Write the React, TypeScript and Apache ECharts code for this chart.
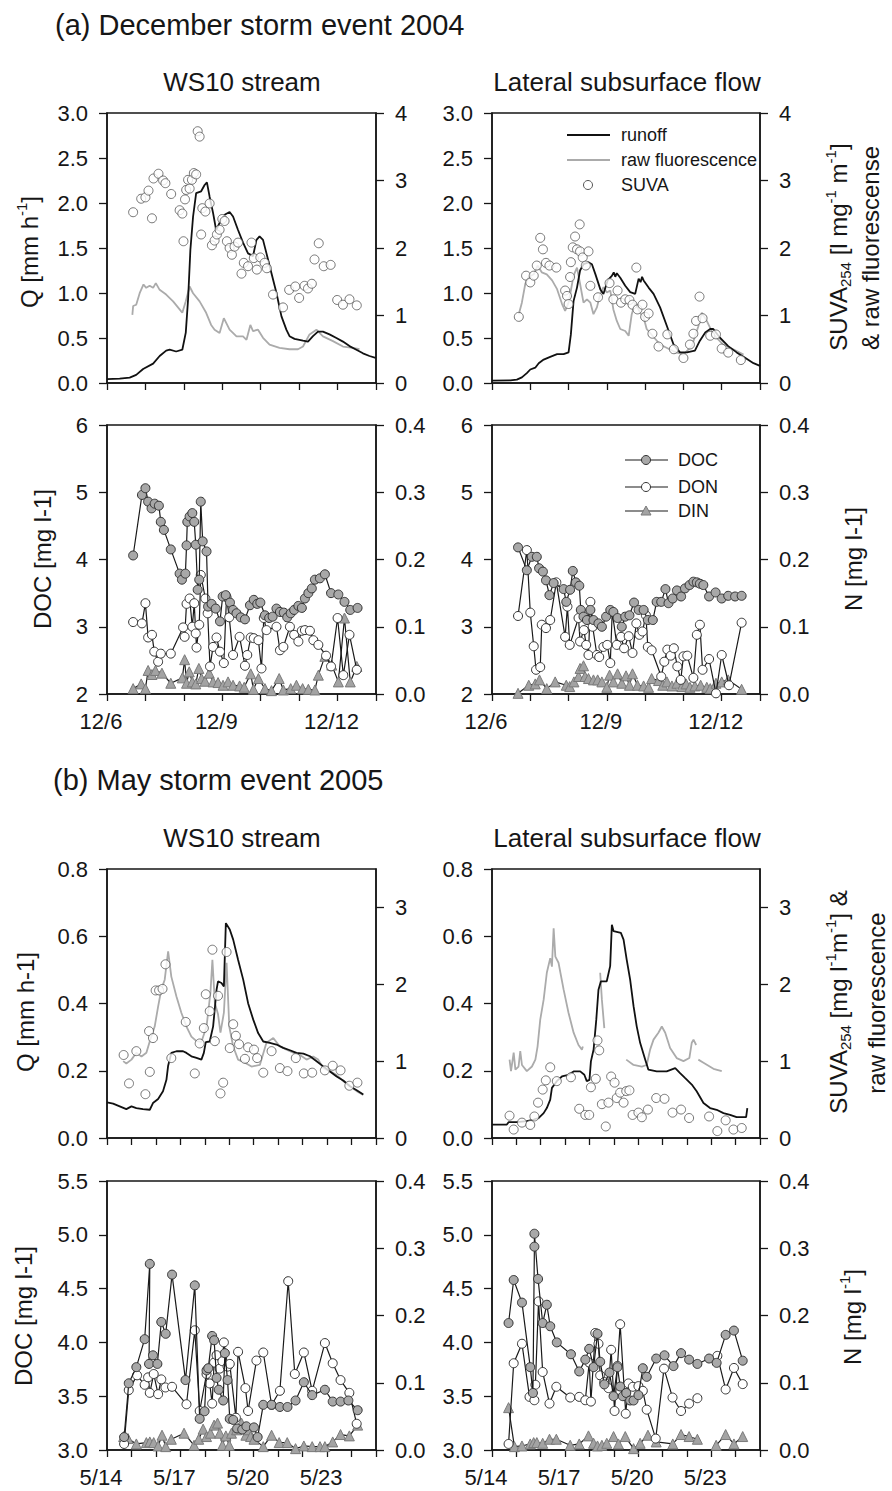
import React, { useEffect, useRef } from 'react';
import * as echarts from 'echarts';

type P = [number, number | null];

// ---------- (a) December 2004 : WS10 stream ----------
const decStreamQ: P[] = [[6.00,0.044],[6.33,0.048],[6.59,0.06],[6.76,0.09],[6.94,0.155],[7.20,0.215],[7.37,0.30],[7.54,0.36],[7.63,0.37],[7.80,0.35],[7.96,0.37],[8.05,0.56],[8.11,0.93],[8.17,1.48],[8.24,1.85],[8.32,2.11],[8.45,2.13],[8.54,2.20],[8.60,2.23],[8.67,2.07],[8.76,1.89],[8.84,1.70],[8.93,1.78],[9.06,1.87],[9.19,1.90],[9.28,1.85],[9.41,1.70],[9.54,1.56],[9.67,1.44],[9.80,1.41],[9.89,1.59],[9.97,1.63],[10.06,1.59],[10.15,1.44],[10.28,1.22],[10.41,1.00],[10.54,0.74],[10.67,0.59],[10.75,0.52],[10.88,0.49],[11.10,0.47],[11.23,0.46],[11.36,0.52],[11.49,0.57],[11.62,0.57],[11.79,0.54],[11.97,0.50],[12.14,0.46],[12.31,0.41],[12.49,0.37],[12.66,0.33],[12.83,0.30],[12.99,0.28]];
const decStreamFluor: P[] = [[6.66,1.01],[6.68,1.14],[6.76,1.16],[6.85,1.33],[6.95,1.46],[7.02,1.41],[7.11,1.44],[7.20,1.41],[7.27,1.48],[7.37,1.38],[7.54,1.31],[7.72,1.21],[7.89,1.09],[7.96,1.04],[8.05,1.21],[8.15,1.43],[8.24,1.33],[8.41,1.21],[8.58,1.04],[8.71,0.86],[8.80,0.79],[8.93,0.74],[9.04,0.96],[9.19,0.79],[9.37,0.69],[9.54,0.69],[9.63,0.64],[9.73,0.86],[9.80,0.77],[9.93,0.79],[10.06,0.67],[10.23,0.57],[10.49,0.52],[10.75,0.50],[10.97,0.50],[11.10,0.54],[11.27,0.72],[11.45,0.79],[11.62,0.69],[11.88,0.62],[12.14,0.54],[12.40,0.52],[12.57,0.50]];
const decStreamSuva: P[] = [[6.68,2.53],[6.89,2.73],[7.00,2.75],[7.08,2.85],[7.17,2.44],[7.21,3.03],[7.34,3.10],[7.46,3.00],[7.52,2.96],[7.67,2.80],[7.89,2.56],[7.96,2.51],[7.99,2.10],[8.03,2.72],[8.06,2.86],[8.11,3.01],[8.15,2.88],[8.21,3.01],[8.26,3.11],[8.32,3.09],[8.36,3.73],[8.41,3.65],[8.45,2.20],[8.48,2.59],[8.56,2.54],[8.67,2.66],[8.73,2.04],[8.80,2.11],[8.86,2.20],[8.93,2.27],[9.00,2.43],[9.06,2.40],[9.12,2.10],[9.19,2.00],[9.25,1.90],[9.32,2.02],[9.41,2.08],[9.50,1.62],[9.56,1.78],[9.67,1.73],[9.76,2.08],[9.82,1.85],[9.90,1.68],[9.99,1.86],[10.10,1.78],[10.16,1.70],[10.32,1.31],[10.58,1.12],[10.74,1.38],[10.90,1.43],[11.00,1.26],[11.14,1.44],[11.23,1.40],[11.33,1.47],[11.40,1.83],[11.51,2.07],[11.64,1.73],[11.82,1.75],[11.99,1.23],[12.14,1.16],[12.31,1.24],[12.50,1.15]];

// ---------- (a) December 2004 : lateral subsurface flow ----------
const decLatQ: P[] = [[6.00,0.026],[6.48,0.03],[6.65,0.037],[6.78,0.063],[6.91,0.11],[7.00,0.15],[7.13,0.17],[7.22,0.22],[7.35,0.26],[7.52,0.29],[7.70,0.32],[7.87,0.32],[8.00,0.34],[8.06,0.54],[8.13,0.91],[8.22,1.06],[8.30,1.25],[8.39,1.32],[8.52,1.34],[8.61,1.32],[8.70,1.21],[8.83,1.04],[8.91,0.99],[9.02,1.14],[9.13,1.19],[9.18,1.23],[9.22,1.18],[9.26,1.22],[9.35,1.17],[9.48,1.08],[9.61,1.01],[9.74,0.99],[9.83,1.16],[9.88,1.12],[9.92,1.18],[9.96,1.14],[10.09,1.06],[10.22,0.99],[10.39,0.84],[10.57,0.63],[10.74,0.43],[10.91,0.34],[11.09,0.34],[11.30,0.36],[11.43,0.47],[11.57,0.56],[11.70,0.60],[11.78,0.60],[11.96,0.50],[12.17,0.41],[12.39,0.34],[12.61,0.28],[12.83,0.22],[13.00,0.19]];
const decLatFluor: P[] = [[6.70,1.02],[6.78,1.19],[6.87,1.47],[6.96,1.57],[7.09,1.61],[7.19,1.74],[7.30,1.64],[7.43,1.61],[7.57,1.52],[7.70,1.39],[7.83,1.17],[7.91,1.07],[8.00,1.19],[8.06,1.37],[8.13,1.59],[8.22,1.71],[8.30,1.47],[8.39,1.19],[8.48,1.24],[8.57,1.19],[8.65,1.02],[8.74,1.12],[8.83,1.32],[8.91,1.42],[9.00,1.34],[9.09,1.37],[9.17,1.09],[9.26,0.92],[9.35,0.80],[9.48,0.77],[9.57,0.70],[9.65,1.02],[9.74,1.19],[9.87,1.04],[9.96,0.97],[10.04,0.80],[10.39,0.57],[10.74,0.47],[11.00,0.42],[11.22,0.55],[11.39,0.84],[11.48,1.04],[11.61,0.92],[11.78,0.72],[12.04,0.57],[12.30,0.50],[12.57,0.42]];
const decLatSuva: P[] = [[6.70,0.98],[6.89,1.59],[7.00,1.49],[7.09,1.59],[7.17,1.74],[7.26,2.15],[7.33,1.98],[7.41,1.78],[7.50,1.74],[7.68,1.71],[7.91,1.37],[7.96,1.29],[8.00,1.17],[8.04,1.57],[8.06,1.79],[8.11,2.01],[8.17,2.17],[8.29,2.35],[8.22,1.98],[8.30,1.95],[8.37,1.86],[8.45,1.74],[8.52,1.95],[8.57,1.44],[8.77,1.27],[9.07,1.48],[9.17,1.24],[9.28,1.37],[9.37,1.19],[9.48,1.24],[9.59,1.23],[9.67,1.16],[9.77,1.71],[9.80,1.09],[9.93,1.16],[10.00,0.98],[10.09,1.03],[10.19,0.73],[10.35,0.54],[10.58,0.72],[10.75,0.50],[11.00,0.37],[11.17,0.57],[11.26,0.73],[11.33,0.92],[11.42,1.28],[11.50,0.96],[11.70,0.70],[11.85,0.72],[12.00,0.51],[12.17,0.45],[12.50,0.34]];

// ---------- (a) December 2004 : solutes, stream ----------
const decStreamDoc: P[] = [[6.68,4.06],[6.91,4.96],[7.00,5.06],[7.07,4.86],[7.16,4.76],[7.24,4.83],[7.35,4.80],[7.40,4.56],[7.48,4.44],[7.66,4.15],[7.89,3.79],[7.95,3.70],[8.04,3.79],[8.07,4.21],[8.09,4.56],[8.15,4.64],[8.22,4.69],[8.27,4.56],[8.31,4.22],[8.36,3.55],[8.40,3.70],[8.44,4.86],[8.49,4.27],[8.59,4.12],[8.63,3.30],[8.72,3.34],[8.83,3.27],[8.94,3.08],[9.01,3.45],[9.09,3.47],[9.20,3.36],[9.28,3.25],[9.37,3.20],[9.48,3.14],[9.59,3.11],[9.72,3.32],[9.82,3.40],[9.91,3.34],[9.99,3.36],[10.11,3.17],[10.22,3.13],[10.31,3.15],[10.41,3.27],[10.50,3.22],[10.60,3.21],[10.69,3.14],[10.78,3.20],[10.87,3.25],[10.98,3.31],[11.07,3.28],[11.15,3.42],[11.24,3.50],[11.33,3.57],[11.41,3.70],[11.54,3.72],[11.67,3.78],[11.83,3.50],[12.02,3.48],[12.18,3.37],[12.33,3.25],[12.52,3.28]];
const decStreamDon: P[] = [[6.68,0.107],[6.91,0.105],[7.00,0.135],[7.07,0.084],[7.17,0.088],[7.23,0.063],[7.33,0.048],[7.40,0.060],[7.66,0.060],[7.98,0.099],[8.02,0.085],[8.07,0.134],[8.15,0.142],[8.22,0.100],[8.27,0.135],[8.31,0.090],[8.33,0.069],[8.40,0.103],[8.44,0.177],[8.56,0.142],[8.62,0.120],[8.68,0.041],[8.76,0.070],[8.85,0.084],[8.94,0.063],[9.04,0.046],[9.11,0.144],[9.18,0.114],[9.28,0.058],[9.45,0.085],[9.59,0.042],[9.65,0.058],[9.74,0.084],[9.82,0.083],[9.94,0.080],[10.02,0.038],[10.08,0.113],[10.15,0.095],[10.41,0.100],[10.50,0.065],[10.59,0.070],[10.76,0.100],[10.87,0.088],[10.98,0.078],[11.07,0.094],[11.15,0.095],[11.28,0.094],[11.37,0.080],[11.50,0.073],[11.70,0.057],[11.83,0.041],[12.00,0.113],[12.15,0.028],[12.31,0.088],[12.50,0.036]];
const decStreamDin: P[] = [[6.68,0.008],[6.89,0.015],[7.00,0.008],[7.07,0.035],[7.17,0.029],[7.26,0.035],[7.43,0.031],[7.66,0.016],[7.96,0.024],[8.02,0.051],[8.07,0.016],[8.14,0.033],[8.22,0.018],[8.31,0.015],[8.39,0.038],[8.46,0.023],[8.55,0.019],[8.66,0.031],[8.76,0.018],[8.89,0.017],[9.02,0.013],[9.15,0.018],[9.28,0.013],[9.45,0.012],[9.57,0.010],[9.74,0.030],[9.81,0.007],[9.94,0.023],[10.11,0.008],[10.28,0.005],[10.48,0.023],[10.59,0.006],[10.78,0.008],[10.93,0.013],[11.09,0.008],[11.24,0.007],[11.41,0.006],[11.50,0.028],[11.67,0.056],[11.85,0.043],[12.02,0.018],[12.18,0.113],[12.33,0.018],[12.50,0.041]];

// ---------- (a) December 2004 : solutes, lateral flow ----------
const decLatDoc: P[] = [[6.68,4.18],[6.91,3.84],[7.04,4.04],[7.17,4.04],[7.23,3.87],[7.33,3.82],[7.41,3.69],[7.50,3.47],[7.61,3.65],[7.87,3.56],[7.94,3.37],[8.04,3.55],[8.11,3.83],[8.19,3.66],[8.28,3.61],[8.32,3.25],[8.39,3.15],[8.48,3.10],[8.57,3.25],[8.65,3.10],[8.78,3.05],[8.87,3.00],[8.98,3.15],[9.09,3.25],[9.17,3.22],[9.28,3.13],[9.39,3.00],[9.48,3.15],[9.59,3.17],[9.71,3.36],[9.83,3.25],[9.96,3.25],[10.07,3.10],[10.20,3.10],[10.30,3.37],[10.42,3.37],[10.53,3.56],[10.61,3.35],[10.72,3.42],[10.83,3.54],[10.94,3.45],[11.04,3.57],[11.16,3.62],[11.26,3.67],[11.35,3.66],[11.43,3.64],[11.52,3.62],[11.67,3.45],[11.84,3.51],[12.00,3.42],[12.17,3.46],[12.35,3.45],[12.52,3.46]];
const decLatDon: P[] = [[6.68,0.116],[6.91,0.214],[7.00,0.121],[7.09,0.071],[7.15,0.036],[7.26,0.040],[7.30,0.103],[7.41,0.098],[7.52,0.110],[7.68,0.166],[7.91,0.085],[7.97,0.130],[8.03,0.073],[8.26,0.113],[8.30,0.078],[8.40,0.095],[8.46,0.073],[8.52,0.058],[8.57,0.137],[8.63,0.100],[8.74,0.058],[8.80,0.055],[8.91,0.070],[9.01,0.073],[9.09,0.046],[9.14,0.122],[9.26,0.073],[9.37,0.085],[9.45,0.068],[9.57,0.086],[9.67,0.061],[9.77,0.105],[9.85,0.088],[9.93,0.093],[10.02,0.117],[10.07,0.070],[10.17,0.065],[10.42,0.026],[10.50,0.048],[10.58,0.066],[10.67,0.057],[10.75,0.068],[10.84,0.041],[10.93,0.021],[11.00,0.056],[11.10,0.057],[11.26,0.024],[11.35,0.088],[11.43,0.103],[11.50,0.036],[11.67,0.052],[11.85,0.001],[12.00,0.058],[12.19,0.013],[12.52,0.106]];
const decLatDin: P[] = [[6.68,0.001],[6.96,0.013],[7.13,0.015],[7.24,0.021],[7.43,0.008],[7.65,0.018],[7.94,0.013],[8.03,0.011],[8.14,0.018],[8.26,0.026],[8.30,0.038],[8.39,0.042],[8.43,0.026],[8.52,0.023],[8.65,0.021],[8.76,0.021],[8.87,0.018],[9.00,0.010],[9.07,0.028],[9.17,0.018],[9.28,0.030],[9.39,0.016],[9.50,0.027],[9.59,0.013],[9.67,0.030],[9.80,0.013],[9.96,0.012],[10.09,0.010],[10.17,0.023],[10.35,0.020],[10.46,0.013],[10.57,0.018],[10.70,0.012],[10.83,0.016],[10.96,0.011],[11.07,0.015],[11.17,0.010],[11.30,0.012],[11.45,0.013],[11.61,0.010],[11.70,0.008],[11.85,0.016],[12.00,0.018],[12.17,0.021],[12.52,0.007]];

// ---------- (b) May 2005 : WS10 stream ----------
const mayStreamQ: P[] = [[14.00,0.106],[14.25,0.102],[14.52,0.094],[14.79,0.086],[15.00,0.094],[15.20,0.089],[15.47,0.086],[15.75,0.084],[15.88,0.104],[16.09,0.116],[16.29,0.139],[16.43,0.173],[16.50,0.215],[16.63,0.253],[16.84,0.258],[17.11,0.258],[17.25,0.253],[17.45,0.243],[17.66,0.238],[17.86,0.233],[17.96,0.253],[18.04,0.285],[18.20,0.287],[18.34,0.332],[18.48,0.441],[18.54,0.466],[18.68,0.461],[18.78,0.451],[18.86,0.639],[19.02,0.620],[19.16,0.590],[19.36,0.530],[19.57,0.471],[19.77,0.401],[19.98,0.352],[20.18,0.312],[20.39,0.287],[20.66,0.283],[20.93,0.278],[21.21,0.268],[21.48,0.261],[21.75,0.253],[22.03,0.251],[22.30,0.243],[22.57,0.228],[22.84,0.213],[23.12,0.198],[23.39,0.183],[23.66,0.171],[23.94,0.154],[24.21,0.142],[24.48,0.129]];
const mayStreamFluor: P[] = [[14.66,1.00],[14.79,0.97],[15.00,1.02],[15.20,1.11],[15.41,1.06],[15.61,1.11],[15.75,1.26],[15.95,1.45],[16.09,1.71],[16.22,1.93],[16.36,2.06],[16.50,2.43],[16.63,2.10],[16.84,1.84],[17.04,1.63],[17.25,1.45],[17.45,1.32],[17.66,1.26],[17.86,1.25],[18.07,1.45],[18.23,1.89],[18.31,2.32],[18.41,1.76],[18.54,1.61],[18.64,1.37],[18.78,1.63],[18.89,2.28],[19.00,1.45],[19.16,1.19],[19.36,1.02],[19.64,0.98],[19.91,0.93],[20.25,0.95],[20.52,1.24],[20.80,1.30],[21.07,1.19],[21.34,1.15],[21.62,1.11],[21.89,1.08],[22.16,1.02],[22.43,1.06],[22.64,1.02],[22.84,0.91],[23.12,0.87],[23.39,0.82],[23.66,0.74],[23.94,0.67],[24.21,0.61],[24.48,0.56]];
const mayStreamSuva: P[] = [[14.68,1.08],[14.90,0.71],[15.20,1.13],[15.57,0.57],[15.72,1.39],[15.75,0.86],[15.88,1.30],[15.99,1.92],[16.13,1.92],[16.27,1.94],[16.39,2.26],[16.63,1.04],[17.22,1.51],[17.59,0.84],[17.79,1.23],[17.96,1.43],[18.04,1.87],[18.20,1.65],[18.31,2.45],[18.41,1.26],[18.54,1.85],[18.64,0.58],[18.75,0.72],[18.89,2.42],[19.02,1.17],[19.16,1.48],[19.27,1.33],[19.40,1.22],[19.64,1.03],[19.77,1.18],[20.01,1.15],[20.14,1.04],[20.39,0.85],[20.73,1.13],[21.07,0.91],[21.38,0.87],[21.72,1.04],[22.05,0.84],[22.39,0.85],[22.91,0.88],[23.23,0.94],[23.55,0.88],[23.91,0.68],[24.24,0.72]];

// ---------- (b) May 2005 : lateral subsurface flow ----------
const mayLatQ: P[] = [[14.00,0.040],[14.61,0.040],[14.68,0.047],[15.02,0.047],[15.43,0.050],[15.71,0.055],[15.91,0.059],[16.12,0.074],[16.25,0.089],[16.39,0.114],[16.46,0.149],[16.66,0.169],[16.87,0.183],[17.14,0.188],[17.35,0.198],[17.62,0.198],[17.79,0.188],[17.89,0.169],[18.00,0.173],[18.06,0.228],[18.17,0.263],[18.28,0.352],[18.37,0.441],[18.47,0.466],[18.71,0.466],[18.85,0.511],[18.92,0.634],[18.99,0.615],[19.29,0.610],[19.40,0.590],[19.53,0.530],[19.67,0.471],[19.81,0.392],[19.94,0.332],[20.08,0.283],[20.29,0.233],[20.42,0.203],[20.76,0.198],[21.17,0.198],[21.52,0.208],[21.72,0.193],[21.93,0.178],[22.20,0.159],[22.40,0.139],[22.68,0.104],[22.95,0.089],[23.22,0.084],[23.50,0.074],[23.77,0.069],[24.04,0.062],[24.43,0.062],[24.48,0.089]];
const mayLatFluor: P[] = [[14.72,1.02],[14.78,0.87],[14.89,1.11],[14.96,0.89],[15.09,0.93],[15.16,1.13],[15.23,0.95],[15.43,0.87],[15.64,0.93],[15.78,1.02],[15.87,1.19],[15.98,1.54],[16.12,1.80],[16.25,2.15],[16.39,2.34],[16.46,2.23],[16.53,2.73],[16.60,2.36],[16.73,2.28],[16.94,1.93],[17.14,1.63],[17.35,1.37],[17.55,1.21],[17.69,1.15],[17.73,1.19],[17.9,null],[18.44,2.15],[18.51,1.80],[18.61,1.43],[19.0,null],[19.51,1.02],[19.81,0.95],[20.15,0.93],[20.35,0.95],[20.49,1.15],[20.63,1.28],[20.83,1.37],[20.97,1.45],[21.11,1.37],[21.31,1.17],[21.58,1.04],[21.86,1.00],[22.10,1.04],[22.20,1.24],[22.27,1.28],[22.38,1.21],[22.42,null],[22.47,1.02],[22.68,0.98],[23.09,0.90],[23.43,0.87]];
const mayLatSuva: P[] = [[14.72,0.29],[14.89,0.11],[15.23,0.20],[15.57,0.17],[15.74,0.28],[15.89,0.46],[16.08,0.63],[16.21,0.75],[16.39,0.92],[16.66,0.74],[17.24,0.79],[17.58,0.38],[17.83,0.30],[17.99,0.30],[18.06,0.66],[18.26,0.77],[18.33,1.27],[18.40,1.14],[18.51,0.44],[18.67,0.15],[18.78,0.46],[18.89,0.80],[19.03,0.72],[19.12,0.52],[19.26,0.59],[19.40,0.46],[19.51,0.61],[19.64,0.62],[19.77,0.30],[20.01,0.33],[20.15,0.27],[20.40,0.37],[20.74,0.52],[21.08,0.51],[21.41,0.33],[21.76,0.37],[22.09,0.26],[22.91,0.28],[23.25,0.09],[23.59,0.23],[23.91,0.11],[24.25,0.13]];

// ---------- (b) May 2005 : solutes, stream ----------
const mayStreamDoc: P[] = [[14.70,3.12],[14.89,3.62],[15.20,3.77],[15.54,4.03],[15.75,4.73],[15.72,3.80],[15.88,3.88],[16.06,3.80],[16.22,4.19],[16.40,4.08],[16.66,4.63],[17.21,3.65],[17.59,4.53],[17.79,3.29],[17.99,3.36],[18.07,3.74],[18.14,3.76],[18.30,4.06],[18.38,4.02],[18.48,3.67],[18.57,3.56],[18.75,3.46],[18.82,3.90],[18.93,3.65],[19.02,3.29],[19.16,3.28],[19.32,3.20],[19.53,3.19],[19.70,3.22],[20.01,3.21],[20.16,3.12],[20.39,3.42],[20.73,3.42],[21.07,3.40],[21.38,3.40],[21.71,3.46],[22.05,3.63],[22.39,3.51],[22.91,3.56],[23.23,3.45],[23.55,3.45],[23.87,3.46],[24.25,3.37]];
const mayStreamDon: P[] = [[14.70,0.009],[14.89,0.089],[15.23,0.111],[15.54,0.097],[15.68,0.108],[15.75,0.085],[15.91,0.113],[16.09,0.083],[16.22,0.105],[16.39,0.093],[16.66,0.094],[17.25,0.068],[17.59,0.178],[17.79,0.058],[18.07,0.113],[18.20,0.099],[18.30,0.069],[18.38,0.130],[18.48,0.141],[18.61,0.121],[18.72,0.132],[18.78,0.160],[18.93,0.124],[19.02,0.128],[19.27,0.048],[19.36,0.146],[19.66,0.092],[19.77,0.058],[20.11,0.133],[20.39,0.145],[20.73,0.067],[21.07,0.088],[21.41,0.251],[21.68,0.113],[22.05,0.145],[22.39,0.088],[22.91,0.159],[23.23,0.129],[23.55,0.104],[23.91,0.085],[24.21,0.039]];
const mayStreamDin: P[] = [[14.68,0.020],[14.86,0.017],[15.20,0.009],[15.61,0.011],[15.75,0.012],[15.91,0.011],[16.09,0.006],[16.25,0.022],[16.40,0.005],[16.63,0.016],[17.15,0.025],[17.56,0.007],[17.75,0.016],[17.93,0.031],[18.07,0.020],[18.23,0.025],[18.38,0.037],[18.52,0.040],[18.61,0.025],[18.72,0.007],[18.86,0.021],[19.00,0.007],[19.09,0.025],[19.30,0.030],[19.50,0.040],[19.68,0.022],[19.77,0.030],[19.87,0.020],[20.01,0.016],[20.39,0.005],[20.73,0.022],[21.04,0.011],[21.37,0.011],[21.71,0.002],[22.05,0.006],[22.39,0.005],[22.71,0.005],[22.91,0.005],[23.23,0.012],[23.55,0.023],[23.91,0.021],[24.25,0.037]];

// ---------- (b) May 2005 : solutes, lateral flow ----------
const mayLatDoc: P[] = [[14.68,4.18],[14.89,4.58],[15.23,4.37],[15.57,3.77],[15.68,3.53],[15.74,4.89],[15.74,5.01],[15.89,4.59],[16.08,4.18],[16.25,4.35],[16.39,4.15],[16.66,4.00],[17.24,3.89],[17.58,3.73],[17.83,3.84],[17.99,3.94],[18.17,3.77],[18.33,4.08],[18.44,3.82],[18.61,3.61],[18.82,3.72],[18.99,3.50],[19.15,3.77],[19.26,3.59],[19.37,3.50],[19.51,3.53],[19.67,3.46],[19.81,3.46],[20.01,3.51],[20.19,3.76],[20.35,3.68],[20.74,3.85],[21.08,3.88],[21.45,3.78],[21.76,3.90],[22.09,3.84],[22.43,3.80],[22.91,3.85],[23.22,3.81],[23.59,4.07],[23.93,4.11],[24.29,3.83]];
const mayLatDon: P[] = [[14.68,0.009],[14.89,0.129],[15.23,0.158],[15.54,0.079],[15.74,0.074],[15.78,0.097],[15.91,0.221],[16.08,0.116],[16.36,0.069],[16.64,0.094],[17.21,0.078],[17.58,0.079],[17.83,0.074],[17.99,0.130],[18.06,0.072],[18.24,0.174],[18.37,0.158],[18.44,0.111],[18.61,0.101],[18.78,0.092],[18.89,0.149],[19.03,0.058],[19.15,0.125],[19.26,0.187],[19.49,0.054],[19.60,0.099],[19.78,0.094],[20.01,0.095],[20.19,0.088],[20.35,0.060],[20.72,0.017],[21.06,0.121],[21.41,0.078],[21.76,0.058],[22.09,0.069],[22.43,0.077],[22.8,null],[23.25,0.140],[23.59,0.090],[23.93,0.122],[24.29,0.098]];
const mayLatDin: P[] = [[14.68,0.063],[14.92,0.005],[15.23,0.006],[15.57,0.009],[15.71,0.011],[15.84,0.011],[16.08,0.010],[16.36,0.016],[16.64,0.016],[17.21,0.007],[17.58,0.009],[17.96,0.021],[18.17,0.010],[18.33,0.006],[18.51,0.007],[18.71,0.010],[18.99,0.020],[19.19,0.009],[19.47,0.020],[19.81,0.002],[20.08,0.010],[20.40,0.022],[20.74,0.012],[21.42,0.009],[21.76,0.023],[22.09,0.020],[22.43,0.016],[22.8,null],[23.20,0.007],[23.59,0.023],[23.93,0.009],[24.29,0.020]];

// ---------- axis ticks / labels ----------
const decDays = { min: 6, max: 13, month: 12 };
const mayDays = { min: 14, max: 25, month: 5 };
const qDecTicks = { min: 0, max: 3, interval: 0.5, dec: 1 };
const suvaDecTicks = { min: 0, max: 4, interval: 1, dec: 0 };
const docDecTicks = { min: 2, max: 6, interval: 1, dec: 0 };
const nTicks = { min: 0, max: 0.4, interval: 0.1, dec: 1 };
const qMayTicks = { min: 0, max: 0.8, interval: 0.2, dec: 1 };
const suvaMayTicks = { min: 0, max: 3.5, interval: 1, dec: 0, custom: [0, 1, 2, 3] };
const docMayTicks = { min: 3, max: 5.5, interval: 0.5, dec: 1 };

const FONT = '"Liberation Sans", Arial, Helvetica, sans-serif';
const INK = '#161616';
const GRAY_LINE = '#ababab';

const GRIDS = [
  [107, 113, 269, 270],
  [492, 113, 268, 270],
  [107, 425, 269, 269],
  [492, 425, 268, 269],
  [107, 869, 269, 269],
  [492, 869, 268, 269],
  [107, 1181, 269, 269],
  [492, 1181, 268, 269],
];

const toData = (d: P[]) => d.map((p) => [p[0], p[1] === null ? '-' : p[1]]);

function xAxisFor(i: number) {
  const r = i < 4 ? decDays : mayDays;
  const showLabels = i === 2 || i === 3 || i === 6 || i === 7;
  return {
    type: 'value', gridIndex: i, min: r.min, max: r.max, interval: 1,
    axisLine: { show: true, onZero: false, lineStyle: { color: INK, width: 1.5 } },
    axisTick: { show: true, length: 7, lineStyle: { color: INK, width: 1.3 } },
    axisLabel: {
      show: showLabels, margin: 16, fontSize: 22, color: INK, fontFamily: FONT,
      padding: [0, 12, 0, 0],
      formatter: (v: number) => ((v - r.min) % 3 === 0 ? `${r.month}/${v}` : ''),
    },
    splitLine: { show: false },
  };
}

function yAxisFor(i: number, pos: 'left' | 'right', t: any) {
  const o: any = {
    type: 'value', gridIndex: i, position: pos, min: t.min, max: t.max, interval: t.interval,
    axisLine: { show: true, onZero: false, lineStyle: { color: INK, width: 1.5 } },
    axisTick: { show: true, length: 8, lineStyle: { color: INK, width: 1.3 } },
    axisLabel: {
      margin: 19, fontSize: 22, color: INK, fontFamily: FONT,
      formatter: (v: number) => v.toFixed(t.dec),
    },
    splitLine: { show: false },
  };
  if (t.custom) {
    o.axisTick.customValues = t.custom;
    o.axisLabel.customValues = t.custom;
  }
  return o;
}

const lineS = (d: P[], xi: number, yi: number, color: string, width: number, z: number) => ({
  type: 'line', xAxisIndex: xi, yAxisIndex: yi, data: toData(d), symbol: 'none', showSymbol: false,
  lineStyle: { color, width }, z, silent: true, emphasis: { disabled: true }, connectNulls: false,
});
const suvaS = (d: P[], xi: number, yi: number) => ({
  type: 'scatter', xAxisIndex: xi, yAxisIndex: yi, data: toData(d), symbol: 'circle', symbolSize: 9,
  itemStyle: { color: '#ffffff', borderColor: '#555555', borderWidth: 1 }, z: 5, silent: true,
  emphasis: { disabled: true },
});
const soluteS = (d: P[], xi: number, yi: number, symbol: string, fill: string, border: string, z: number) => ({
  type: 'line', xAxisIndex: xi, yAxisIndex: yi, data: toData(d), symbol, symbolSize: symbol === 'triangle' ? 10 : 9,
  showSymbol: true, itemStyle: { color: fill, borderColor: border, borderWidth: 1 },
  lineStyle: { color: '#1a1a1a', width: 1.2 }, z, silent: true, emphasis: { disabled: true }, connectNulls: false,
});

const DOC_FILL = '#a8a8a8';
const DIN_FILL = '#a3a3a3';

function buildOption() {
  const grid = GRIDS.map((g) => ({
    left: g[0], top: g[1], width: g[2], height: g[3], show: true,
    borderColor: INK, borderWidth: 1.5, backgroundColor: 'transparent', outerBoundsMode: 'none',
  }));
  const xAxis = GRIDS.map((_, i) => xAxisFor(i));
  const ticks = [
    [qDecTicks, suvaDecTicks], [qDecTicks, suvaDecTicks],
    [docDecTicks, nTicks], [docDecTicks, nTicks],
    [qMayTicks, suvaMayTicks], [qMayTicks, suvaMayTicks],
    [docMayTicks, nTicks], [docMayTicks, nTicks],
  ];
  const yAxis: any[] = [];
  ticks.forEach((t, i) => {
    yAxis.push(yAxisFor(i, 'left', t[0]));
    yAxis.push(yAxisFor(i, 'right', t[1]));
  });

  const flowPanels: [P[], P[], P[]][] = [
    [decStreamQ, decStreamFluor, decStreamSuva],
    [decLatQ, decLatFluor, decLatSuva],
    [mayStreamQ, mayStreamFluor, mayStreamSuva],
    [mayLatQ, mayLatFluor, mayLatSuva],
  ];
  const flowIdx = [0, 1, 4, 5];
  const solPanels: [P[], P[], P[]][] = [
    [decStreamDoc, decStreamDon, decStreamDin],
    [decLatDoc, decLatDon, decLatDin],
    [mayStreamDoc, mayStreamDon, mayStreamDin],
    [mayLatDoc, mayLatDon, mayLatDin],
  ];
  const solIdx = [2, 3, 6, 7];

  const series: any[] = [];
  flowPanels.forEach((p, k) => {
    const i = flowIdx[k];
    series.push(lineS(p[1], i, 2 * i + 1, GRAY_LINE, 1.8, 2));
    series.push(lineS(p[0], i, 2 * i, '#111111', 1.8, 3));
    series.push(suvaS(p[2], i, 2 * i + 1));
  });
  solPanels.forEach((p, k) => {
    const i = solIdx[k];
    series.push(soluteS(p[2], i, 2 * i + 1, 'triangle', DIN_FILL, '#7a7a7a', 3));
    series.push(soluteS(p[1], i, 2 * i + 1, 'circle', '#ffffff', '#333333', 4));
    series.push(soluteS(p[0], i, 2 * i, 'circle', DOC_FILL, '#333333', 5));
  });

  const txt = (x: number, y: number, text: string, size: number, align = 'center') => ({
    type: 'text', x, y, silent: true,
    style: { text, fill: INK, fontSize: size, fontFamily: FONT, align, verticalAlign: 'middle' },
  });
  const rich = {
    n: { fontSize: 24, fontFamily: FONT, fill: INK, lineHeight: 30 },
    sup: { fontSize: 15, fontFamily: FONT, fill: INK, verticalAlign: 'top', lineHeight: 16 },
    sub: { fontSize: 15, fontFamily: FONT, fill: INK, verticalAlign: 'bottom', lineHeight: 14 },
  };
  const vtxt = (x: number, y: number, text: string) => ({
    type: 'text', x, y, rotation: Math.PI / 2, silent: true,
    style: { text, fill: INK, fontSize: 24, fontFamily: FONT, align: 'center', verticalAlign: 'middle', rich },
  });

  const legLine = (y: number, color: string) => ({
    type: 'line', silent: true, shape: { x1: 567, y1: y, x2: 610, y2: y }, style: { stroke: color, lineWidth: 2 },
  });
  const solLine = (y: number) => ({
    type: 'line', silent: true, shape: { x1: 625, y1: y, x2: 668, y2: y }, style: { stroke: '#1a1a1a', lineWidth: 1.2 },
  });

  const graphic: any[] = [
    txt(55, 25, '(a) December storm event 2004', 29, 'left'),
    txt(242, 82, 'WS10 stream', 26),
    txt(627, 82, 'Lateral subsurface flow', 26),
    txt(53, 780, '(b) May storm event 2005', 29, 'left'),
    txt(242, 838, 'WS10 stream', 26),
    txt(627, 838, 'Lateral subsurface flow', 26),

    vtxt(29, 252, '{n|Q [mm h}{sup|-1}{n|]}'),
    vtxt(838, 247, '{n|SUVA}{sub|254}{n| [l mg}{sup|-1}{n| m}{sup|-1}{n|]}'),
    vtxt(870, 248, '{n|& raw fluorescense}'),
    vtxt(42, 559, '{n|DOC [mg l-1]}'),
    vtxt(853, 559, '{n|N [mg l-1]}'),
    vtxt(25, 1012, '{n|Q [mm h-1]}'),
    vtxt(838, 1002, '{n|SUVA}{sub|254}{n| [mg l}{sup|-1}{n|m}{sup|-1}{n|] &}'),
    vtxt(876, 1003, '{n|raw fluorescence}'),
    vtxt(23, 1316, '{n|DOC [mg l-1]}'),
    vtxt(852, 1317, '{n|N [mg l}{sup|-1}{n|]}'),

    legLine(135, '#111111'),
    legLine(160, GRAY_LINE),
    { type: 'circle', silent: true, shape: { cx: 588, cy: 185, r: 4.5 }, style: { fill: '#ffffff', stroke: '#555555', lineWidth: 1 } },
    txt(621, 135, 'runoff', 18, 'left'),
    txt(621, 160, 'raw fluorescence', 18, 'left'),
    txt(621, 185, 'SUVA', 18, 'left'),

    solLine(460),
    { type: 'circle', silent: true, shape: { cx: 646, cy: 460, r: 4.5 }, style: { fill: DOC_FILL, stroke: '#333333', lineWidth: 1 } },
    solLine(487),
    { type: 'circle', silent: true, shape: { cx: 646, cy: 487, r: 4.5 }, style: { fill: '#ffffff', stroke: '#333333', lineWidth: 1 } },
    solLine(511),
    { type: 'polygon', silent: true, shape: { points: [[646, 506], [651, 515], [641, 515]] }, style: { fill: DIN_FILL, stroke: '#7a7a7a', lineWidth: 1 } },
    txt(678, 460, 'DOC', 18, 'left'),
    txt(678, 487, 'DON', 18, 'left'),
    txt(678, 511, 'DIN', 18, 'left'),
  ];

  return {
    animation: false,
    backgroundColor: '#ffffff',
    textStyle: { fontFamily: FONT },
    grid, xAxis, yAxis, series, graphic,
  };
}

export default function App() {
  const ref = useRef<HTMLDivElement>(null);
  useEffect(() => {
    document.body.style.margin = '0';
    if (!ref.current) return;
    const chart = echarts.init(ref.current, undefined, { renderer: 'svg' });
    chart.setOption(buildOption() as any);
    return () => chart.dispose();
  }, []);
  return <div ref={ref} style={{ width: 892, height: 1491, background: '#fff' }} />;
}
